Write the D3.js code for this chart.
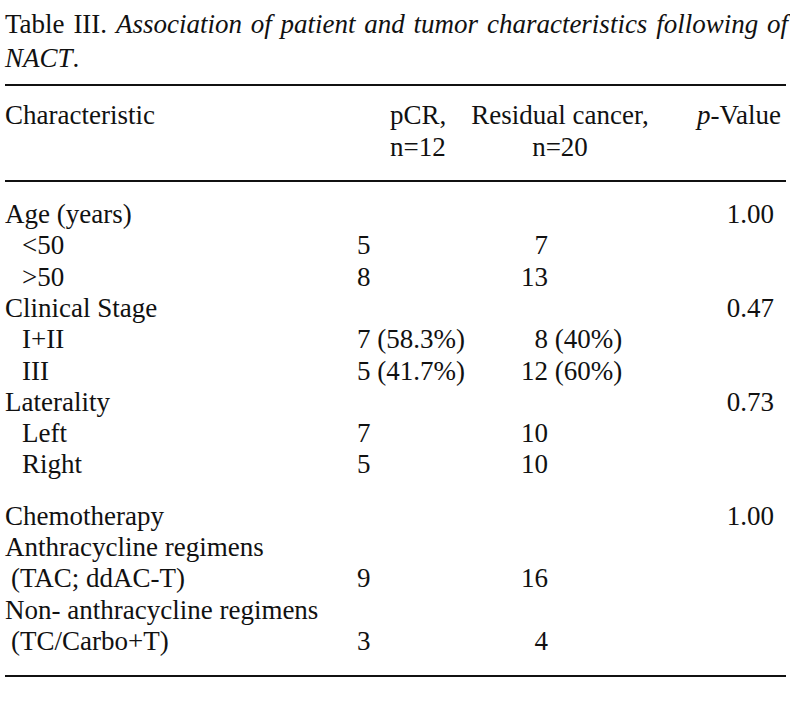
<!DOCTYPE html>
<html>
<head>
<meta charset="utf-8">
<script src="https://cdn.jsdelivr.net/npm/d3@7"></script>
<style>
    body { margin: 0; background: #fff; }
    svg { display: block; }
    text { font-family: "Liberation Serif", "Times New Roman", serif; fill: #111; }
</style>
</head>
<body>
<div id="tableBox"></div>
<script>
// table content
const tableNo = "Table III.";
const captionLines = ["Association of patient and tumor characteristics following of", "NACT"];
const colHeads = ["Characteristic", "pCR,", "Residual cancer,", "-Value"];
const colHeads2 = ["", "n=12", "n=20", ""];

const characteristics = ["Age (years)", "<50", ">50", "Clinical Stage", "I+II", "III",
    "Laterality", "Left", "Right", "Chemotherapy", "Anthracycline regimens", "(TAC; ddAC-T)",
    "Non- anthracycline regimens", "(TC/Carbo+T)"];
const rowLevel = [0, 1, 1, 0, 1, 1, 0, 1, 1, 0, 0, 2, 0, 2]; // 0=heading, 1=sub item, 2=continued line
const pcrValues = ["", "5", "8", "", "7 (58.3%)", "5 (41.7%)", "", "7", "5", "", "", "9", "", "3"];
const residualValues = ["", "7", "13", "", "8 (40%)", "12 (60%)", "", "10", "10", "", "", "16", "", "4"];
const pValues = ["1.00", "", "", "0.47", "", "", "0.73", "", "", "1.00", "", "", "", ""];

const W = 790, H = 708, fs = 27;

const svg = d3.select('#tableBox').append('svg')
    .attr('width', W).attr('height', H)
    .attr('viewBox', `0 0 ${W} ${H}`);

svg.append('rect').attr('width', W).attr('height', H).attr('fill', '#fff');

// caption (first line justified to the full width)
const cap = svg.append('text').attr('x', 5).attr('y', 33).style('font-size', `${fs}px`);
cap.append('tspan').text(tableNo + ' ');
cap.append('tspan').style('font-style', 'italic').text(captionLines[0]);
const capLen = cap.node().getComputedTextLength();
const nSpaces = (tableNo + ' ' + captionLines[0]).split(' ').length - 1;
cap.style('word-spacing', `${Math.max(0, (788 - 5 - capLen) / nSpaces)}px`);

const cap2 = svg.append('text').attr('x', 5).attr('y', 67).style('font-size', `${fs}px`);
cap2.append('tspan').style('font-style', 'italic').text(captionLines[1]);
cap2.append('tspan').text('.');

// rules
function rule(y) {
    svg.append('line').attr('x1', 5).attr('x2', 786).attr('y1', y).attr('y2', y)
        .attr('stroke', '#111').attr('stroke-width', 2);
}
rule(85);
rule(181);
rule(676);

// header
const colX = { label: 5, pcr: 357, residual: 521, p: 774 };
svg.append('text').attr('x', colX.label).attr('y', 124).style('font-size', `${fs}px`).text(colHeads[0]);
svg.append('text').attr('x', 390).attr('y', 124).style('font-size', `${fs}px`).text(colHeads[1]);
svg.append('text').attr('x', 390).attr('y', 156).style('font-size', `${fs}px`).text(colHeads2[1]);
svg.append('text').attr('x', 560).attr('y', 124).attr('text-anchor', 'middle').style('font-size', `${fs}px`).text(colHeads[2]);
svg.append('text').attr('x', 560).attr('y', 156).attr('text-anchor', 'middle').style('font-size', `${fs}px`).text(colHeads2[2]);
const ph = svg.append('text').attr('x', 781).attr('y', 124).attr('text-anchor', 'end').style('font-size', `${fs}px`);
ph.append('tspan').style('font-style', 'italic').text('p');
ph.append('tspan').text(colHeads[3]);

// body rows, a little extra space before the chemotherapy block
const bodyStep = 31.3;
const yRow = i => 223 + i * bodyStep + (i >= 9 ? 20 : 0);

const rows = svg.append('g').selectAll('g')
    .data(characteristics.map((c, i) => ({ c, i, lvl: rowLevel[i], pcr: pcrValues[i], res: residualValues[i], p: pValues[i] })))
    .enter().append('g')
    .attr('transform', d => `translate(0,${yRow(d.i)})`)
    .style('font-size', `${fs}px`);

rows.append('text')
    .attr('x', d => colX.label + (d.lvl === 1 ? 17 : d.lvl === 2 ? 6 : 0))
    .text(d => d.c);
rows.append('text').attr('x', colX.pcr).text(d => d.pcr);
// single digit counts start one digit further in
rows.append('text')
    .attr('x', d => colX.residual + (/^\d(\D|$)/.test(d.res) ? fs * 0.5 : 0))
    .text(d => d.res);
rows.append('text').attr('x', colX.p).attr('text-anchor', 'end').text(d => d.p);
</script>
</body>
</html>
